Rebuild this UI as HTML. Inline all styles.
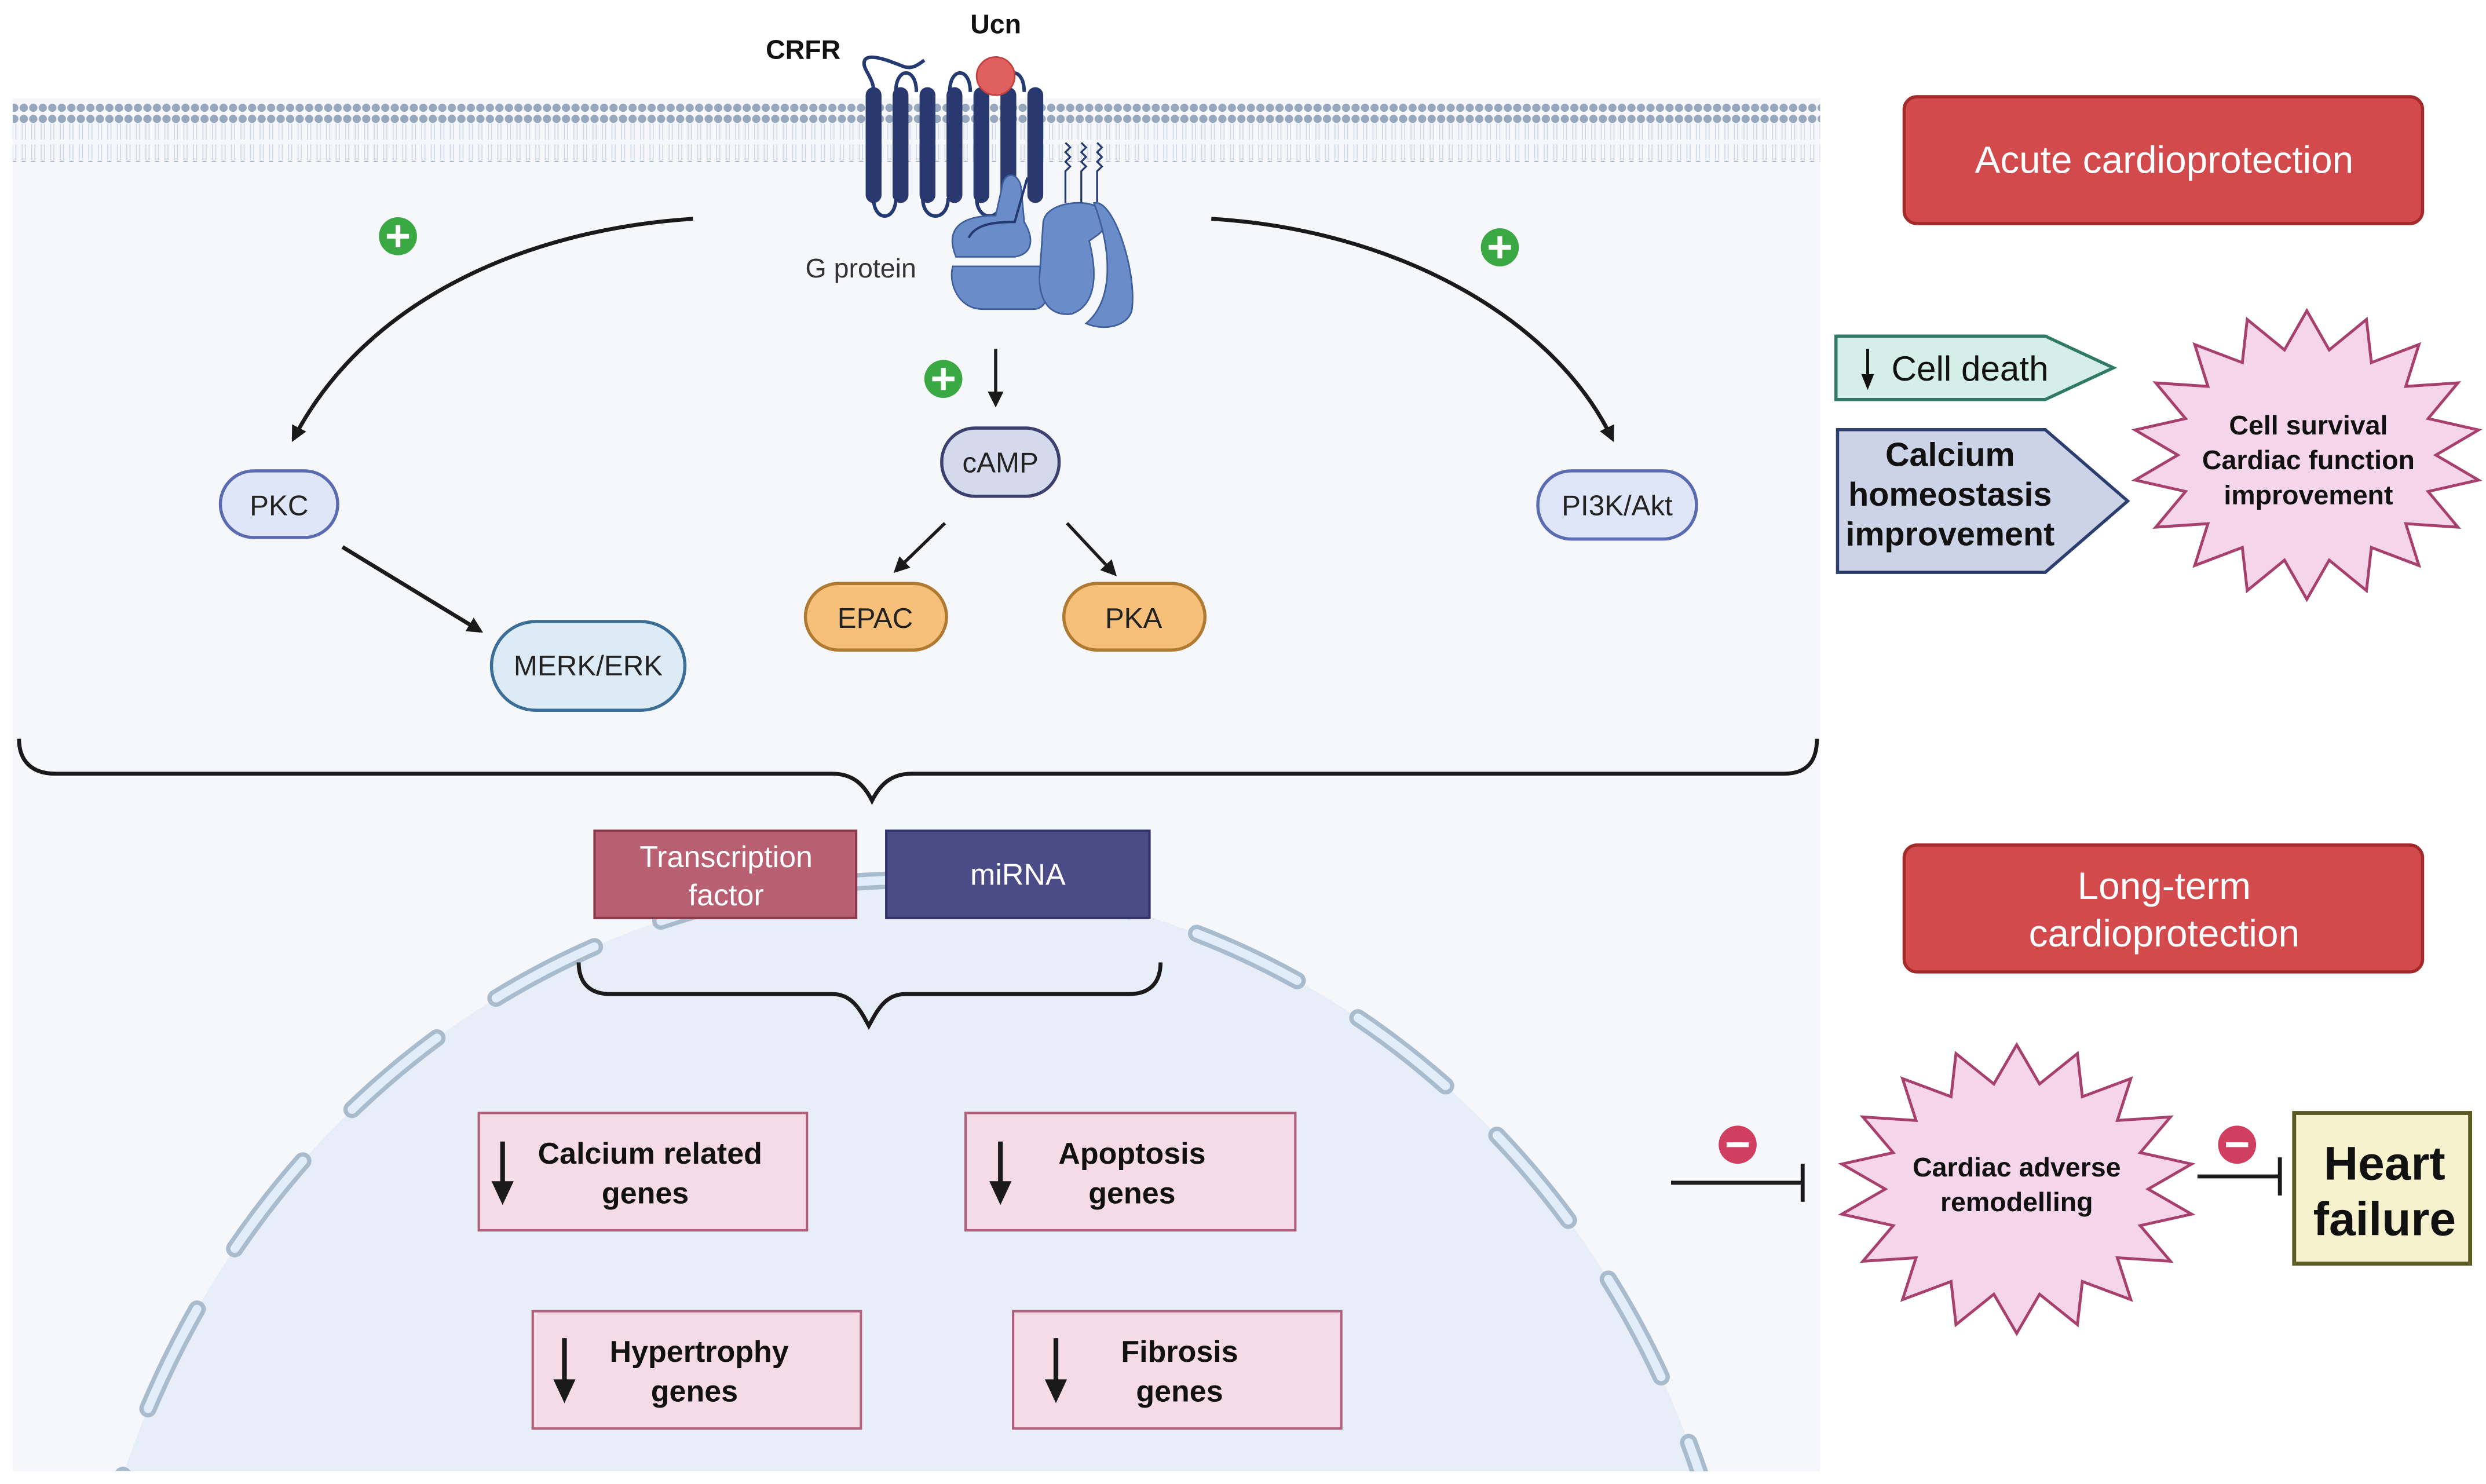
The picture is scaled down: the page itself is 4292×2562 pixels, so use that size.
<!DOCTYPE html>
<html><head><meta charset="utf-8"><style>
html,body{margin:0;padding:0;background:#fff;width:4292px;height:2562px;overflow:hidden;}
svg{display:block;}
text{font-family:"Liberation Sans",sans-serif;}
</style></head><body>
<svg id="s" width="4292" height="2562" viewBox="0 0 1568 936" preserveAspectRatio="none" xmlns="http://www.w3.org/2000/svg">
<defs>
<pattern id="dots" width="6" height="36" patternUnits="userSpaceOnUse">
<circle cx="3" cy="3" r="2.6" fill="#97a7bd"/>
<circle cx="3" cy="32" r="2.6" fill="#97a7bd"/>
<line x1="2" y1="6" x2="2" y2="16" stroke="#cdd7e6" stroke-width="0.6"/>
<line x1="4" y1="6" x2="4" y2="16" stroke="#cdd7e6" stroke-width="0.6"/>
<line x1="2" y1="19" x2="2" y2="29" stroke="#cdd7e6" stroke-width="0.6"/>
<line x1="4" y1="19" x2="4" y2="29" stroke="#cdd7e6" stroke-width="0.6"/>
</pattern>
<marker id="ah" markerWidth="10" markerHeight="10" refX="8" refY="5" orient="auto" markerUnits="userSpaceOnUse">
<path d="M0,0 L10,5 L0,10 Z" fill="#1a1a1a"/>
</marker>
<clipPath id="pc"><rect x="8" y="62" width="1140" height="866"/></clipPath>
</defs>
<rect x="0" y="0" width="1568" height="936" fill="#ffffff"/>
<rect x="8" y="62" width="1140" height="866" fill="#f5f7fb"/>
<rect x="8" y="65" width="1140" height="37" fill="url(#dots)"/>
<g clip-path="url(#pc)">
<ellipse cx="575" cy="1120" rx="528" ry="565" fill="#e8eef7"/>
<ellipse cx="575" cy="1120" rx="528" ry="565" fill="none" stroke="#a9bccd" stroke-width="11" stroke-dasharray="70 45" stroke-linecap="round"/>
<ellipse cx="575" cy="1120" rx="528" ry="565" fill="none" stroke="#e1edf9" stroke-width="5.5" stroke-dasharray="70 45" stroke-linecap="round"/>
</g>
<g fill="none" stroke="#253a72" stroke-width="2.2">
<path d="M551,60 C552,50 545,45 545,40 C545,32 560,38 570,42 C576,44 580,40 583,38"/>
<path d="M565,58 C565,42 578,42 578,58"/><path d="M599,58 C599,42 612,42 612,58"/><path d="M633,58 C633,42 646,42 646,58"/>
<path d="M551,125 C551,140 565,140 565,125"/><path d="M582,125 C582,140 598,140 598,125"/><path d="M616,125 C616,140 632,140 632,125"/>
</g>
<g fill="#29396f">
<rect x="546" y="55" width="10" height="73" rx="5"/><rect x="563" y="55" width="10" height="73" rx="5"/><rect x="580" y="55" width="10" height="73" rx="5"/><rect x="597" y="55" width="10" height="73" rx="5"/><rect x="614" y="55" width="10" height="73" rx="5"/><rect x="631" y="55" width="10" height="73" rx="5"/><rect x="648" y="55" width="10" height="73" rx="5"/>
</g>
<circle cx="628" cy="48" r="12" fill="#e06060" stroke="#c04040" stroke-width="1"/>
<g fill="none" stroke="#253a72" stroke-width="1.2">
<path d="M672,90 l3,3 -3,3 3,3 -3,3 3,3 -3,3 0,20"/><path d="M682,90 l3,3 -3,3 3,3 -3,3 3,3 -3,3 0,20"/><path d="M692,90 l3,3 -3,3 3,3 -3,3 3,3 -3,3 0,30"/>
</g>
<g fill="#6a8cc8" stroke="#3e5f9c" stroke-width="1">
<path d="M603,162 C596,145 605,136 628,136 L632,118 C633,108 642,108 644,118 L646,140 C652,150 652,160 640,162 Z"/>
<path d="M601,168 C598,178 604,195 620,195 L652,195 C662,195 664,178 660,168 Z"/>
<path d="M658,140 C660,126 692,124 697,135 C700,145 692,148 687,152 C692,172 692,192 676,198 C660,200 654,186 656,170 Z"/>
<path d="M690,128 C702,125 717,170 714,195 C712,206 696,209 685,204 C702,190 702,160 690,128 Z"/>
</g>
<path d="M611,150 C615,142 625,140 640,140 L648,112" fill="none" stroke="#253a72" stroke-width="1.5"/>
<text x="483" y="37" font-size="17" font-weight="bold" fill="#111">CRFR</text>
<text x="612" y="21" font-size="17" font-weight="bold" fill="#111">Ucn</text>
<text x="508" y="175" font-size="17" fill="#333">G protein</text>
<path d="M437,138 C330,145 230,190 185,277" fill="none" stroke="#1a1a1a" stroke-width="2.5" marker-end="url(#ah)"/>
<path d="M764,138 C880,145 980,200 1017,277" fill="none" stroke="#1a1a1a" stroke-width="2.5" marker-end="url(#ah)"/>
<line x1="628" y1="220" x2="628" y2="255" stroke="#1a1a1a" stroke-width="2" marker-end="url(#ah)"/>
<line x1="596" y1="330" x2="565" y2="360" stroke="#1a1a1a" stroke-width="2" marker-end="url(#ah)"/>
<line x1="673" y1="330" x2="703" y2="362" stroke="#1a1a1a" stroke-width="2" marker-end="url(#ah)"/>
<line x1="216" y1="345" x2="303" y2="398" stroke="#1a1a1a" stroke-width="2.5" marker-end="url(#ah)"/>
<g>
<circle cx="251" cy="149" r="12" fill="#3aa843"/><path d="M244,149h14M251,142v14" stroke="#fff" stroke-width="3"/>
<circle cx="946" cy="156" r="12" fill="#3aa843"/><path d="M939,156h14M946,149v14" stroke="#fff" stroke-width="3"/>
<circle cx="595" cy="239" r="12" fill="#3aa843"/><path d="M588,239h14M595,232v14" stroke="#fff" stroke-width="3"/>
</g>
<rect x="139" y="297" width="74" height="42" rx="21" fill="#dee6f8" stroke="#5b6bb2" stroke-width="2"/>
<text x="176" y="325" font-size="18" text-anchor="middle" fill="#222">PKC</text>
<rect x="310" y="392" width="122" height="56" rx="28" fill="#dcebf6" stroke="#3a6e96" stroke-width="2"/>
<text x="371" y="426" font-size="18" text-anchor="middle" fill="#222">MERK/ERK</text>
<rect x="594" y="270" width="74" height="43" rx="21" fill="#d5d9ec" stroke="#3b406f" stroke-width="2"/>
<text x="631" y="298" font-size="18" text-anchor="middle" fill="#222">cAMP</text>
<rect x="508" y="368" width="89" height="42" rx="21" fill="#f6c07b" stroke="#b07a30" stroke-width="2"/>
<text x="552" y="396" font-size="18" text-anchor="middle" fill="#222">EPAC</text>
<rect x="671" y="368" width="89" height="42" rx="21" fill="#f6c07b" stroke="#b07a30" stroke-width="2"/>
<text x="715" y="396" font-size="18" text-anchor="middle" fill="#222">PKA</text>
<rect x="970" y="297" width="100" height="43" rx="21" fill="#dee6f8" stroke="#5b6bb2" stroke-width="2"/>
<text x="1020" y="325" font-size="18" text-anchor="middle" fill="#222">PI3K/Akt</text>
<path d="M12,466 C12,480 20,488 35,488 L525,488 C538,488 545,495 550,505 C555,495 562,488 575,488 L1125,488 C1140,488 1146,480 1146,466" fill="none" stroke="#1a1a1a" stroke-width="2.5"/>
<path d="M365,607 C365,620 372,627 385,627 L525,627 C538,627 543,638 548,647 C553,638 558,627 571,627 L712,627 C725,627 732,620 732,607" fill="none" stroke="#1a1a1a" stroke-width="2.5"/>
<rect x="375" y="524" width="165" height="55" fill="#b85f72" stroke="#8a3a4a" stroke-width="1.5"/>
<text x="458" y="547" font-size="19" text-anchor="middle" fill="#fff">Transcription</text>
<text x="458" y="571" font-size="19" text-anchor="middle" fill="#fff">factor</text>
<rect x="559" y="524" width="166" height="55" fill="#4b4b88" stroke="#33336a" stroke-width="1.5"/>
<text x="642" y="558" font-size="19" text-anchor="middle" fill="#fff">miRNA</text>
<g font-size="19" font-weight="bold" fill="#111" text-anchor="middle">
<rect x="302" y="702" width="207" height="74" fill="#f5dbe6" stroke="#b0607a" stroke-width="1.5"/>
<text x="410" y="734">Calcium related</text><text x="407" y="759">genes</text>
<rect x="609" y="702" width="208" height="74" fill="#f5dbe6" stroke="#b0607a" stroke-width="1.5"/>
<text x="714" y="734">Apoptosis</text><text x="714" y="759">genes</text>
<rect x="336" y="827" width="207" height="74" fill="#f5dbe6" stroke="#b0607a" stroke-width="1.5"/>
<text x="441" y="859">Hypertrophy</text><text x="438" y="884">genes</text>
<rect x="639" y="827" width="207" height="74" fill="#f5dbe6" stroke="#b0607a" stroke-width="1.5"/>
<text x="744" y="859">Fibrosis</text><text x="744" y="884">genes</text>
</g>
<g stroke="#1a1a1a" stroke-width="3" fill="#1a1a1a">
<line x1="317" y1="720" x2="317" y2="748"/><path d="M310,745 L324,745 L317,760 Z" stroke="none"/>
<line x1="631" y1="720" x2="631" y2="748"/><path d="M624,745 L638,745 L631,760 Z" stroke="none"/>
<line x1="356" y1="844" x2="356" y2="873"/><path d="M349,870 L363,870 L356,885 Z" stroke="none"/>
<line x1="666" y1="844" x2="666" y2="873"/><path d="M659,870 L673,870 L666,885 Z" stroke="none"/>
</g>
<rect x="1201" y="61" width="327" height="80" rx="8" fill="#d24a4b" stroke="#a3292b" stroke-width="2"/>
<text x="1365" y="109" font-size="24" text-anchor="middle" fill="#fff">Acute cardioprotection</text>
<rect x="1201" y="533" width="327" height="80" rx="8" fill="#d24a4b" stroke="#a3292b" stroke-width="2"/>
<text x="1365" y="567" font-size="24" text-anchor="middle" fill="#fff">Long-term</text>
<text x="1365" y="597" font-size="24" text-anchor="middle" fill="#fff">cardioprotection</text>
<path d="M1158,212 L1290,212 L1333,232 L1290,252 L1158,252 Z" fill="#d5efe8" stroke="#2f7a64" stroke-width="2"/>
<line x1="1178" y1="220" x2="1178" y2="238" stroke="#111" stroke-width="1.8"/><path d="M1174,236 L1182,236 L1178,246 Z" fill="#111"/>
<text x="1193" y="240" font-size="22" fill="#111">Cell death</text>
<path d="M1159,271 L1290,271 L1342,316 L1290,361 L1159,361 Z" fill="#ccd3e7" stroke="#2c3e70" stroke-width="2"/>
<g font-size="21" font-weight="bold" fill="#111" text-anchor="middle">
<text x="1230" y="294">Calcium</text><text x="1230" y="319">homeostasis</text><text x="1230" y="344">improvement</text>
</g>
<polygon id="st1" fill="#f5d5ea" stroke="#a8406e" stroke-width="1.8" points=""/>
<g font-size="17" font-weight="bold" fill="#111" text-anchor="middle">
<text x="1456" y="274">Cell survival</text><text x="1456" y="296">Cardiac function</text><text x="1456" y="318">improvement</text>
</g>
<polygon id="st2" fill="#f5d5ea" stroke="#a8406e" stroke-width="1.8" points=""/>
<g font-size="17" font-weight="bold" fill="#111" text-anchor="middle">
<text x="1272" y="742">Cardiac adverse</text><text x="1272" y="764">remodelling</text>
</g>
<rect x="1447" y="702" width="111" height="95" fill="#f6f2cd" stroke="#5a5a22" stroke-width="2.5"/>
<text x="1504" y="744" font-size="30" font-weight="bold" text-anchor="middle" fill="#111">Heart</text>
<text x="1504" y="779" font-size="30" font-weight="bold" text-anchor="middle" fill="#111">failure</text>
<g stroke="#1a1a1a" stroke-width="2.5">
<line x1="1054" y1="746" x2="1137" y2="746"/><line x1="1137" y1="734" x2="1137" y2="758"/>
<line x1="1386" y1="742" x2="1438" y2="742"/><line x1="1438" y1="730" x2="1438" y2="754"/>
</g>
<circle cx="1096" cy="722" r="12" fill="#d03f5f"/><line x1="1089" y1="722" x2="1103" y2="722" stroke="#fff" stroke-width="3"/>
<circle cx="1411" cy="722" r="12" fill="#d03f5f"/><line x1="1404" y1="722" x2="1418" y2="722" stroke="#fff" stroke-width="3"/>
</svg>
<script>
function star(id,cx,cy,rx,ry,n,k){var p=[];for(var i=0;i<2*n;i++){var a=-Math.PI/2+i*Math.PI/n;var f=i%2?k:1;p.push((cx+rx*f*Math.cos(a)).toFixed(1)+','+(cy+ry*f*Math.sin(a)).toFixed(1));}document.getElementById(id).setAttribute('points',p.join(' '));}
star('st1',1455,287,110,91,18,0.74);
star('st2',1272,750,112,91,18,0.74);
</script>
</body></html>
